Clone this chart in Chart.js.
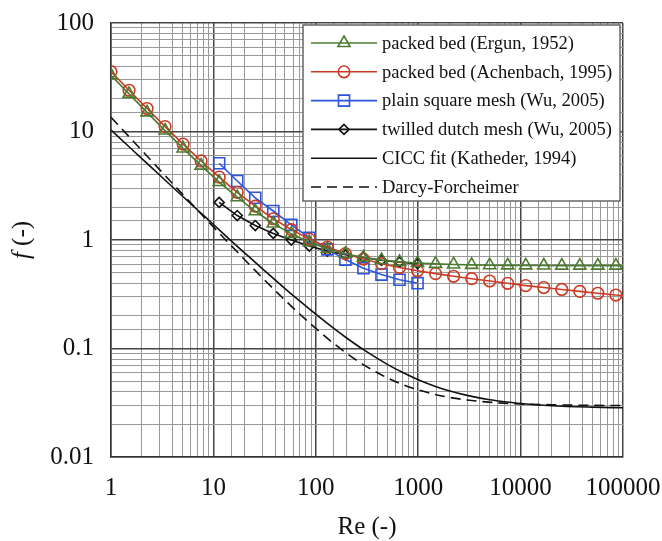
<!DOCTYPE html>
<html>
<head>
<meta charset="utf-8">
<script src="https://cdn.jsdelivr.net/npm/chart.js@4.4.0/dist/chart.umd.min.js"></script>
<style>
  html, body { margin: 0; padding: 0; background: #fff; }
</style>
</head>
<body>
<canvas id="graphContainer" width="662" height="541"></canvas>
<script>

// Re values where the markers sit (last one only carries the line to the edge)
var reMarks = [1, 1.5, 2.25, 3.375, 5.06, 7.59, 11.39, 17.09, 25.63, 38.44, 57.67, 86.5, 129.7, 194.6,
    291.9, 437.9, 656.8, 985.3, 1478, 2217, 3325, 4988, 7482, 11223, 16834, 25251, 37877, 56815, 85223, 100000];

var ergunF = [33.0, 22.2, 15.0, 10.2, 6.98, 4.85, 3.42, 2.48, 1.84, 1.42, 1.14, 0.955, 0.830, 0.747,
    0.691, 0.654, 0.629, 0.613, 0.602, 0.595, 0.590, 0.586, 0.584, 0.583, 0.582, 0.581, 0.581, 0.581, 0.580, 0.580];

var achenbachF = [35.6, 24.0, 16.3, 11.1, 7.66, 5.35, 3.80, 2.75, 2.05, 1.57, 1.245, 1.02, 0.861, 0.749,
    0.667, 0.605, 0.558, 0.520, 0.490, 0.463, 0.440, 0.419, 0.399, 0.380, 0.365, 0.350, 0.336, 0.323, 0.311, 0.306];

var reMesh = [11.39, 17.09, 25.63, 38.44, 57.67, 86.5, 129.7, 194.6, 291.9, 437.9, 656.8, 985.3];
var plainSquareF = [5.1, 3.5, 2.45, 1.85, 1.38, 1.05, 0.82, 0.66, 0.55, 0.48, 0.43, 0.40];
var twilledDutchF = [2.22, 1.68, 1.36, 1.15, 1.0, 0.88, 0.79, 0.73, 0.69, 0.65, 0.625, 0.605];

var reCurve = [1, 1.5, 2, 3, 5, 7, 10, 15, 20, 30, 50, 70, 100, 150, 200, 300, 500, 700, 1000,
    1500, 2000, 3000, 5000, 7000, 10000, 20000, 50000, 100000];
var ciccF = [10.33, 7.24, 5.62, 3.95, 2.53, 1.89, 1.39, 0.978, 0.766, 0.544, 0.357, 0.273, 0.207, 0.153,
    0.125, 0.096, 0.0714, 0.0603, 0.0516, 0.0445, 0.0408, 0.0370, 0.0337, 0.0323, 0.0311, 0.0297, 0.0288, 0.0284];
var darcyF = [13.5, 8.96, 6.69, 4.43, 2.64, 1.885, 1.319, 0.882, 0.665, 0.450, 0.279, 0.207, 0.153, 0.111,
    0.0904, 0.0698, 0.0536, 0.0466, 0.0415, 0.0375, 0.0355, 0.0335, 0.0320, 0.0313, 0.0308, 0.0303, 0.0299, 0.0298];

var xTickLabels = ['1', '10', '100', '1000', '10000', '100000'];
var yTickLabels = ['0.01', '0.1', '1', '10', '100'];

var seriesNames = [
    'packed bed (Ergun, 1952)',
    'packed bed (Achenbach, 1995)',
    'plain square mesh (Wu, 2005)',
    'twilled dutch mesh (Wu, 2005)',
    'CICC fit (Katheder, 1994)',
    'Darcy-Forcheimer'
];

var serif = '"Liberation Serif", "Times New Roman", serif';
var green = '#4c7a30';
var red = '#cc3a24';
var blue = '#2b55dd';
var black = '#111111';

function pairs(xs, ys) {
    var out = [];
    for (var i = 0; i < ys.length; i++) {
        out.push({x: xs[i], y: ys[i]});
    }
    return out;
}

function isDecade(v) {
    var l = Math.log10(v);
    return Math.abs(l - Math.round(l)) < 1e-6;
}

// no marker on the point that only extends the line to Re = 100000
function hideLast(ctx) {
    return ctx.dataIndex === ctx.dataset.data.length - 1 ? 0 : ctx.dataset.markerSize;
}

var ctx = document.getElementById('graphContainer');

var legendBox = {
    id: 'legendBox',
    afterDraw: function(chart) {
        var c = chart.ctx;
        var area = chart.chartArea;
        var left = area.right - 320;
        var top = area.top + 2;
        c.save();
        c.fillStyle = '#ffffff';
        c.fillRect(left, top, 317, 176);
        c.strokeStyle = '#666';
        c.lineWidth = 1.5;
        c.strokeRect(left, top, 317, 176);

        chart.data.datasets.forEach(function(ds, i) {
            var y = top + 18 + i * 28.8;
            c.beginPath();
            c.strokeStyle = ds.borderColor;
            c.lineWidth = ds.borderWidth;
            c.setLineDash(ds.borderDash || []);
            c.moveTo(left + 8, y);
            c.lineTo(left + 74, y);
            c.stroke();
            c.setLineDash([]);
            if (ds.markerSize) {
                c.fillStyle = 'rgba(0,0,0,0)';
                c.strokeStyle = ds.pointBorderColor;
                c.lineWidth = ds.pointBorderWidth;
                Chart.helpers.drawPoint(c, {
                    pointStyle: ds.pointStyle,
                    rotation: 0,
                    radius: ds.markerSize,
                    borderWidth: ds.pointBorderWidth
                }, left + 41, y);
            }
            c.fillStyle = '#111';
            c.font = '18.5px ' + serif;
            c.textAlign = 'left';
            c.textBaseline = 'middle';
            c.fillText(ds.label, left + 79, y + 1);
        });
        c.restore();
    }
};

var axisTitles = {
    id: 'axisTitles',
    afterDraw: function(chart) {
        var c = chart.ctx;
        var area = chart.chartArea;
        c.save();
        c.fillStyle = '#111';
        c.textBaseline = 'middle';
        c.textAlign = 'center';
        c.font = '25px ' + serif;
        c.fillText('Re (-)', (area.left + area.right) / 2, 527);

        c.translate(22, (area.top + area.bottom) / 2);
        c.rotate(-Math.PI / 2);
        c.font = 'italic 25px ' + serif;
        var fW = c.measureText('f').width;
        c.font = '25px ' + serif;
        var restW = c.measureText(' (-)').width;
        var x0 = -(fW + restW) / 2;
        c.textAlign = 'left';
        c.font = 'italic 25px ' + serif;
        c.fillText('f', x0, 0);
        c.font = '25px ' + serif;
        c.fillText(' (-)', x0 + fW, 0);
        c.restore();
    }
};

var chart = new Chart(ctx.getContext('2d'), {
    type: 'line',
    data: {
        datasets: [{
            label: seriesNames[0],
            data: pairs(reMarks, ergunF),
            borderColor: green,
            borderWidth: 1.6,
            pointStyle: 'triangle',
            markerSize: 7,
            pointRadius: hideLast,
            pointBorderColor: green,
            pointBorderWidth: 1.6,
            pointBackgroundColor: 'rgba(0,0,0,0)'
        }, {
            label: seriesNames[1],
            data: pairs(reMarks, achenbachF),
            borderColor: red,
            borderWidth: 1.6,
            pointStyle: 'circle',
            markerSize: 5.8,
            pointRadius: hideLast,
            pointBorderColor: red,
            pointBorderWidth: 1.6,
            pointBackgroundColor: 'rgba(0,0,0,0)'
        }, {
            label: seriesNames[2],
            data: pairs(reMesh, plainSquareF),
            borderColor: blue,
            borderWidth: 1.6,
            pointStyle: 'rect',
            markerSize: 7.8,
            pointRadius: 7.8,
            pointBorderColor: blue,
            pointBorderWidth: 1.6,
            pointBackgroundColor: 'rgba(0,0,0,0)'
        }, {
            label: seriesNames[3],
            data: pairs(reMesh, twilledDutchF),
            borderColor: black,
            borderWidth: 1.6,
            pointStyle: 'rectRot',
            markerSize: 5,
            pointRadius: 5,
            pointBorderColor: black,
            pointBorderWidth: 1.6,
            pointBackgroundColor: 'rgba(0,0,0,0)'
        }, {
            label: seriesNames[4],
            data: pairs(reCurve, ciccF),
            borderColor: black,
            borderWidth: 1.6,
            pointRadius: 0,
            cubicInterpolationMode: 'monotone'
        }, {
            label: seriesNames[5],
            data: pairs(reCurve, darcyF),
            borderColor: black,
            borderWidth: 1.6,
            borderDash: [10, 6],
            pointRadius: 0,
            cubicInterpolationMode: 'monotone'
        }]
    },
    options: {
        responsive: false,
        animation: false,
        events: [],
        layout: {padding: {left: 0, right: 39, top: 23, bottom: 0}},
        plugins: {legend: {display: false}, tooltip: {enabled: false}},
        scales: {
            x: {
                type: 'logarithmic',
                min: 1,
                max: 100000,
                afterFit: function(scale) {
                    scale.height = 84;
                    scale.paddingLeft = 0;
                    scale.paddingRight = 0;
                },
                border: {color: '#333', width: 1.5},
                grid: {
                    drawTicks: false,
                    color: function(c) { return isDecade(c.tick.value) ? '#444' : '#999'; },
                    lineWidth: function(c) { return isDecade(c.tick.value) ? 1.5 : 1; }
                },
                ticks: {
                    autoSkip: false,
                    maxRotation: 0,
                    padding: 16,
                    color: '#111',
                    font: {family: serif, size: 25},
                    callback: function(v) {
                        return isDecade(v) ? xTickLabels[Math.round(Math.log10(v))] : '';
                    }
                }
            },
            y: {
                type: 'logarithmic',
                min: 0.01,
                max: 100,
                afterFit: function(scale) {
                    scale.width = 111;
                    scale.paddingTop = 0;
                    scale.paddingBottom = 0;
                },
                border: {color: '#333', width: 1.5},
                grid: {
                    drawTicks: false,
                    color: function(c) { return isDecade(c.tick.value) ? '#444' : '#999'; },
                    lineWidth: function(c) { return isDecade(c.tick.value) ? 1.5 : 1; }
                },
                ticks: {
                    autoSkip: false,
                    padding: 17,
                    color: '#111',
                    font: {family: serif, size: 25},
                    callback: function(v) {
                        return isDecade(v) ? yTickLabels[Math.round(Math.log10(v)) + 2] : '';
                    }
                }
            }
        }
    },
    plugins: [legendBox, axisTitles]
});
</script>
</body>
</html>
